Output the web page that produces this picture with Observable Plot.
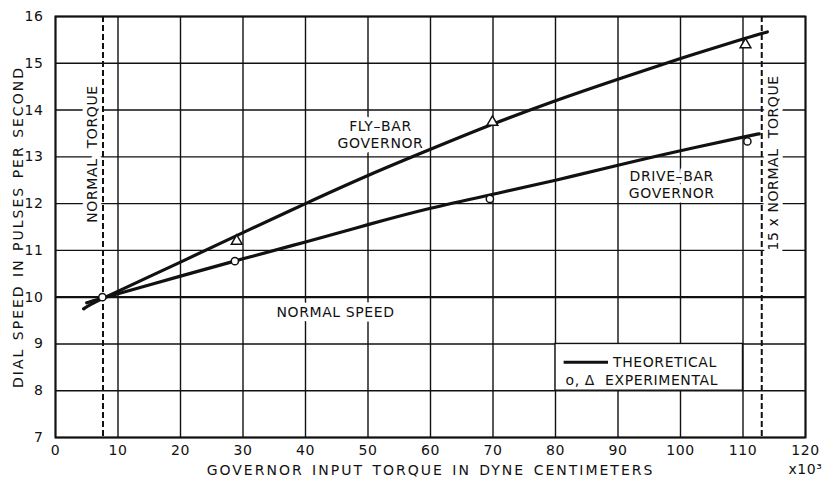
<!DOCTYPE html>
<html>
<head>
<meta charset="utf-8">
<script src="https://cdn.jsdelivr.net/npm/d3@7"></script>
<script src="https://cdn.jsdelivr.net/npm/@observablehq/plot@0.6"></script>
<style>
  html, body { margin: 0; padding: 0; background: #fff; }
  #chart svg { display: block; background: #fff; }
  #chart svg text { paint-order: stroke; letter-spacing: 0.6px; }
  #chart svg [aria-label="x-axis label"] text { letter-spacing: 2px; word-spacing: 2px; }
  #chart svg [aria-label="y-axis label"] text { letter-spacing: 2px; word-spacing: 1px; }
</style>
</head>
<body>
<div id="chart"></div>
<script>
// ---- data ----
const xTicks = [0, 10, 20, 30, 40, 50, 60, 70, 80, 90, 100, 110, 120];
const yTicks = [7, 8, 9, 10, 11, 12, 13, 14, 15, 16];

// theoretical curves (torque in 10^3 dyne-cm, speed in pulses/s)
const flyBarTorque = [4.5, 8, 20, 30, 40, 50, 60, 70, 80, 90, 100, 110, 113.9];
const flyBarSpeed  = [9.75, 10.0, 10.75, 11.38, 12.0, 12.6, 13.16, 13.7, 14.2, 14.66, 15.1, 15.52, 15.67];
const driveBarTorque = [5.0, 8, 20, 30, 40, 50, 60, 70, 80, 90, 100, 110, 112.6];
const driveBarSpeed  = [9.88, 10.0, 10.45, 10.82, 11.18, 11.55, 11.9, 12.2, 12.5, 12.82, 13.13, 13.42, 13.49];

// experimental points
const circleTorque = [7.5, 28.7, 69.5, 110.7];
const circleSpeed  = [10.0, 10.77, 12.1, 13.33];
const triangleTorque = [29.0, 69.9, 110.4];
const triangleSpeed  = [11.2, 13.74, 15.4];

// reference lines
const torqueMarkers = [7.6, 113];
const normalSpeed = [10];

// annotations
const labelText = ["FLY\u2013BAR\nGOVERNOR", "DRIVE\u2013BAR\nGOVERNOR", "NORMAL SPEED"];
const labelTorque = [52, 98.6, 44.8];
const labelSpeed = [13.49, 12.41, 9.69];
const vLabelText = ["NORMAL  TORQUE", "15 x NORMAL  TORQUE"];
const vLabelTorque = [5.9, 114.9];
const vLabelSpeed = [13.06, 12.87];

// legend cell (grid cell that holds the key)
const legendCell = [{x1: 80, x2: 110, y1: 8, y2: 9}];
const legendItems = ["THEORETICAL", "o, \u0394  EXPERIMENTAL"];

// ---- build tables ----
const fly = flyBarTorque.map((t, i) => ({t, s: flyBarSpeed[i]}));
const drive = driveBarTorque.map((t, i) => ({t, s: driveBarSpeed[i]}));
const circles = circleTorque.map((t, i) => ({t, s: circleSpeed[i]}));
const triangles = triangleTorque.map((t, i) => ({t, s: triangleSpeed[i]}));
const labels = labelText.map((text, i) => ({text, t: labelTorque[i], s: labelSpeed[i]}));
const vLabels = vLabelText.map((text, i) => ({text, t: vLabelTorque[i], s: vLabelSpeed[i]}));

const FONT = "'DejaVu Sans', 'Liberation Sans', sans-serif";

const chart = Plot.plot({
  width: 824,
  height: 480,
  marginLeft: 55,
  marginRight: 19,
  marginTop: 16,
  marginBottom: 43,
  style: {fontFamily: FONT, fontSize: "13.5px", color: "#111", background: "#fff"},
  x: {domain: [0, 120]},
  y: {domain: [7, 16]},
  marks: [
    Plot.gridX(xTicks, {stroke: "#111", strokeOpacity: 1, strokeWidth: 1.4}),
    Plot.gridY(yTicks, {stroke: "#111", strokeOpacity: 1, strokeWidth: 1.4}),
    Plot.ruleY(normalSpeed, {stroke: "#111", strokeWidth: 2.4}),
    // legend cell
    Plot.rect(legendCell, {x1: "x1", x2: "x2", y1: "y1", y2: "y2", fill: "white", stroke: "#111", strokeWidth: 1.4}),
    Plot.link([{a: 81.3, b: 88.4, y: 8.61}], {x1: "a", x2: "b", y1: "y", y2: "y", stroke: "#111", strokeWidth: 3}),
    Plot.text([legendItems[0]], {x: 89.2, y: 8.61, text: d => d, textAnchor: "start", fontSize: 14, fill: "#111"}),
    Plot.text([legendItems[1]], {x: 81.6, y: 8.22, text: d => d, textAnchor: "start", fontSize: 14, fill: "#111"}),
    // annotation labels with white halo (grid gaps)
    Plot.text(labels, {x: "t", y: "s", text: "text", fontSize: 14, fill: "#111", stroke: "white", strokeWidth: 9, lineHeight: 1.2}),
    Plot.text(vLabels, {x: "t", y: "s", text: "text", rotate: -90, fontSize: 14, fill: "#111", stroke: "white", strokeWidth: 9}),
    // dashed torque markers
    Plot.ruleX(torqueMarkers, {stroke: "#111", strokeWidth: 2, strokeDasharray: "6,3"}),
    // theoretical curves
    Plot.line(fly, {x: "t", y: "s", stroke: "#111", strokeWidth: 3.2, curve: "natural"}),
    Plot.line(drive, {x: "t", y: "s", stroke: "#111", strokeWidth: 3.2, curve: "natural"}),
    // experimental points
    Plot.dot(circles, {x: "t", y: "s", r: 3.6, fill: "white", stroke: "#111", strokeWidth: 1.5}),
    Plot.dot(triangles, {x: "t", y: "s", r: 4, symbol: "triangle", fill: "white", stroke: "#111", strokeWidth: 1.5}),
    // axes
    Plot.axisX(xTicks, {tickSize: 0, tickPadding: 8, fontSize: 14, label: "GOVERNOR INPUT TORQUE IN DYNE CENTIMETERS", labelAnchor: "center", labelOffset: 37, labelArrow: "none"}),
    Plot.axisY(yTicks, {tickSize: 0, tickPadding: 12, fontSize: 14, label: "DIAL SPEED IN PULSES PER SECOND", labelAnchor: "center", labelOffset: 42, labelArrow: "none"}),
    Plot.text(["x10\u00b3"], {frameAnchor: "bottom-right", dx: 0, dy: 36, text: d => d, textAnchor: "middle", fontSize: 14, fill: "#111"}),
    Plot.frame({stroke: "#111", strokeWidth: 2})
  ]
});
document.getElementById("chart").appendChild(chart);
</script>
</body>
</html>
